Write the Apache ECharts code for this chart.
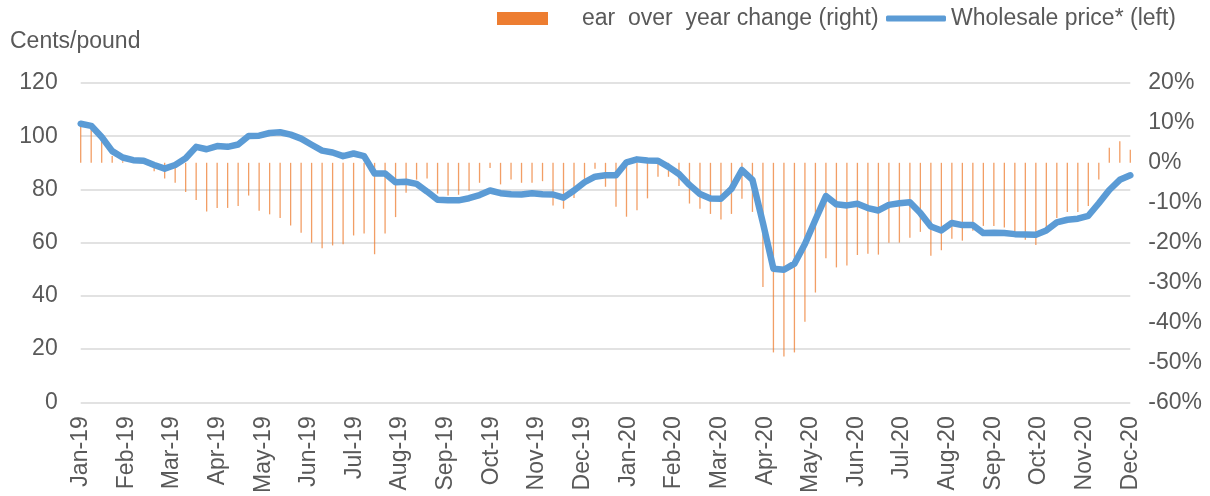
<!DOCTYPE html>
<html>
<head>
<meta charset="utf-8">
<script src="https://cdn.jsdelivr.net/npm/echarts@6/dist/echarts.min.js"></script>
<style>
  html, body { margin: 0; padding: 0; background: #ffffff; }
  #chart { width: 1210px; height: 496px; }
</style>
</head>
<body>
<div id="chart"></div>
<script>
// Month tick labels shown on the x axis
const monthLabels = ['Jan-19','Feb-19','Mar-19','Apr-19','May-19','Jun-19','Jul-19','Aug-19','Sep-19','Oct-19','Nov-19','Dec-19',
  'Jan-20','Feb-20','Mar-20','Apr-20','May-20','Jun-20','Jul-20','Aug-20','Sep-20','Oct-20','Nov-20','Dec-20'];

// Wholesale price (cents/pound), weekly, left axis
const wholesalePrice = [
  104.7,103.9,99.7,94.4,92.0,91.0,90.8,89.2,87.8,89.2,
  91.7,96.0,95.1,96.3,96.0,96.9,100.1,100.2,101.2,101.5,
  100.6,99.1,96.8,94.6,93.9,92.5,93.5,92.5,86.0,86.0,
  82.7,82.9,82.1,79.2,76.1,75.9,75.9,76.7,77.9,79.6,
  78.6,78.2,78.1,78.6,78.2,78.1,76.9,79.6,82.7,84.8,
  85.3,85.3,90.2,91.3,90.9,90.8,88.5,85.8,81.7,78.3,
  76.6,76.5,80.2,87.3,83.6,67.4,50.2,49.8,52.1,59.5,
  68.6,77.5,74.4,74.0,74.6,73.0,72.1,74.2,74.8,75.2,
  71.1,66.1,64.6,67.4,66.6,66.6,63.6,63.7,63.6,63.2,
  63.1,63.0,64.6,67.6,68.6,69.0,70.1,74.8,79.8,83.6,
  85.3
];

// Year over year change (%), weekly, right axis
const yoyChange = [
  9.2,8.3,5.4,1.7,0.4,0,0,-2.1,-3.9,-5.0,
  -7.3,-9.3,-12.2,-11.3,-11.3,-10.8,-8.2,-12.0,-12.9,-13.8,
  -15.7,-17.5,-20.0,-21.4,-20.7,-20.4,-18.2,-17.7,-22.9,-17.7,
  -13.6,-7.5,-4.2,-3.9,-7.7,-8.2,-8.0,-7.0,-5.0,-1.3,
  -5.4,-4.2,-5.0,-5.0,-4.6,-10.7,-11.5,-8.8,-5.4,-1.5,
  -6.0,-11.0,-13.5,-11.9,-8.9,-3.5,-3.5,-5.8,-10.2,-11.5,
  -12.8,-14.2,-12.8,-9.0,-12.3,-31.1,-47.5,-48.5,-47.5,-39.8,
  -32.5,-23.9,-26.2,-25.7,-23.1,-22.8,-23.0,-20.0,-20.0,-18.8,
  -17.3,-23.3,-21.9,-19.0,-19.5,-17.0,-15.8,-15.8,-16.2,-18.0,
  -19.3,-20.6,-16.7,-13.8,-12.3,-12.3,-10.8,-4.2,3.8,5.4,
  3.3
];

// Weekly category keys (week number)
const weeks = wholesalePrice.map((_, i) => 'W' + (i + 1));

const barName = 'ear  over  year change (right)';
const lineName = 'Wholesale price* (left)';
const textColor = '#595959';
const fontFamily = '"Liberation Sans", Arial, sans-serif';

const chart = echarts.init(document.getElementById('chart'), null, { renderer: 'canvas' });
chart.setOption({
  animation: false,
  backgroundColor: '#ffffff',
  textStyle: { fontFamily: fontFamily, color: textColor },
  title: {
    text: 'Cents/pound',
    left: 10, top: 30, padding: 0,
    textStyle: { fontSize: 23, fontWeight: 'normal', color: textColor, fontFamily: fontFamily }
  },
  legend: [
    {
      data: [{ name: barName, icon: 'rect', itemStyle: { color: '#ED7D31', opacity: 1 } }],
      left: 497, top: 7, padding: 0,
      itemWidth: 51, itemHeight: 13,
      textStyle: { fontSize: 23, color: textColor, fontFamily: fontFamily, padding: [0, 0, 0, 29] }
    },
    {
      data: [{ name: lineName, icon: 'roundRect' }],
      left: 886, top: 7, padding: 0,
      itemWidth: 60, itemHeight: 6,
      textStyle: { fontSize: 23, color: textColor, fontFamily: fontFamily }
    }
  ],
  grid: { left: 80.7, right: 79.7, top: 83, bottom: 92.5, containLabel: false },
  xAxis: [
    {
      type: 'category', data: weeks, boundaryGap: false, show: false
    },
    {
      type: 'category', data: monthLabels, boundaryGap: false, position: 'bottom',
      axisLine: { show: false }, axisTick: { show: false },
      axisLabel: { rotate: 90, interval: 0, margin: 14, fontSize: 23, color: textColor, fontFamily: fontFamily }
    }
  ],
  yAxis: [
    {
      type: 'value', min: 0, max: 120, interval: 20,
      axisLine: { show: false }, axisTick: { show: false },
      axisLabel: { margin: 23, fontSize: 23, color: textColor, fontFamily: fontFamily },
      splitLine: { show: true, lineStyle: { color: '#D9D9D9', width: 1.5 } }
    },
    {
      type: 'value', min: -60, max: 20, interval: 10, position: 'right',
      axisLine: { show: false }, axisTick: { show: false },
      axisLabel: { margin: 18, fontSize: 23, color: textColor, fontFamily: fontFamily, formatter: v => v + '%' },
      splitLine: { show: false }
    }
  ],
  series: [
    {
      name: barName, type: 'bar', xAxisIndex: 0, yAxisIndex: 1,
      data: yoyChange, barWidth: 1.3,
      itemStyle: { color: '#ED7D31', opacity: 0.75 },
      z: 2
    },
    {
      name: lineName, type: 'line', xAxisIndex: 0, yAxisIndex: 0,
      data: wholesalePrice, symbol: 'none', smooth: false,
      lineStyle: { color: '#5B9BD5', width: 6.5, join: 'round', cap: 'round' },
      itemStyle: { color: '#5B9BD5' },
      z: 3
    }
  ]
});
</script>
</body>
</html>
